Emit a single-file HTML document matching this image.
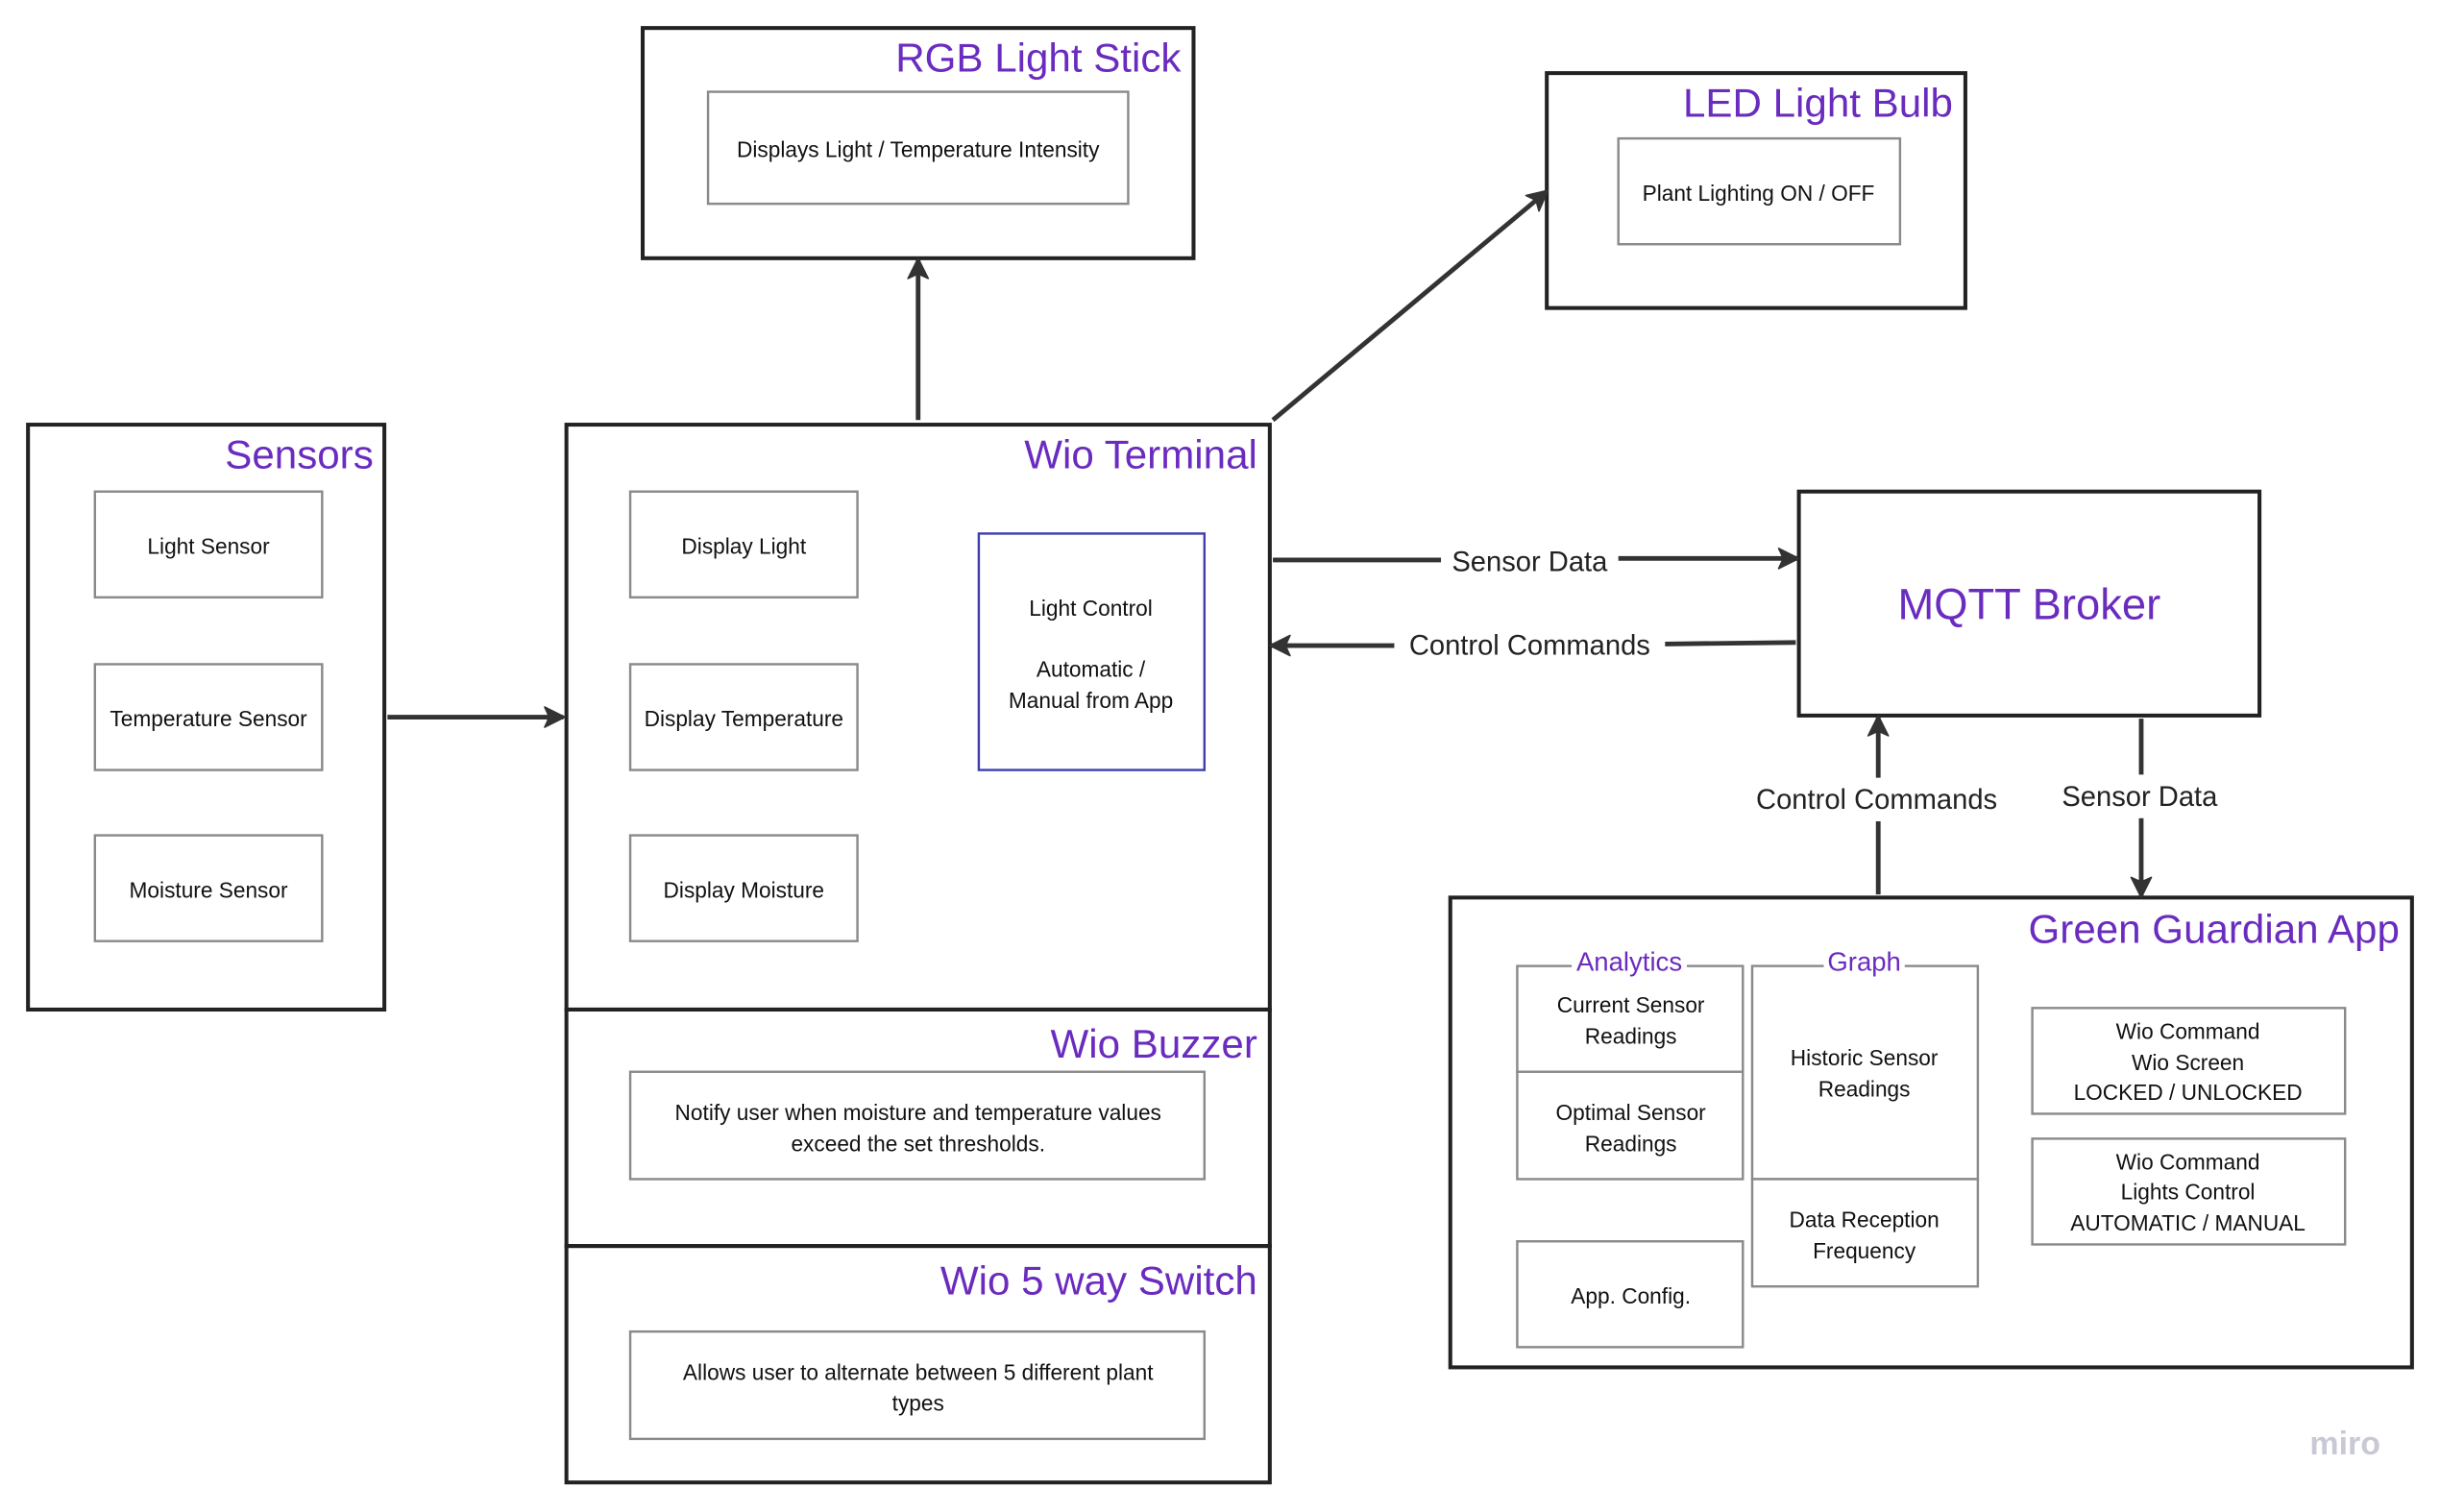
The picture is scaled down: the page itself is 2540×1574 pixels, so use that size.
<!DOCTYPE html>
<html><head><meta charset="utf-8"><style>
html,body{margin:0;padding:0;background:#fff;width:2540px;height:1574px;overflow:hidden}
svg{display:block}
text{font-family:"Liberation Sans",sans-serif}
.o{fill:none;stroke:#222;stroke-width:2.5}
.i{fill:#fff;stroke:#8a8a8a;stroke-width:1.5}
.t{fill:#6a2bbf;font-size:26px;text-anchor:end}
.s{fill:#111;font-size:14px;text-anchor:middle}
.l{fill:#222;font-size:18px;text-anchor:middle}
.a{stroke:#333;stroke-width:3;fill:none}
</style></head><body>
<svg width="2540" height="1574" viewBox="0 0 1568 972" preserveAspectRatio="none">
<defs><marker id="ah" markerWidth="16" markerHeight="16" refX="13" refY="8" orient="auto" markerUnits="userSpaceOnUse"><path d="M1,1.5 L14,8 L1,14.5 L4,8 Z" fill="#333" stroke="#333" stroke-width="1" stroke-linejoin="round"/></marker></defs>

<!-- RGB -->
<rect class="o" x="413" y="18" width="354" height="148"/>
<text class="t" x="759" y="46">RGB Light Stick</text>
<rect class="i" x="455" y="59" width="270" height="72"/>
<text class="s" x="590" y="101">Displays Light / Temperature Intensity</text>

<!-- LED -->
<rect class="o" x="994" y="47" width="269" height="151"/>
<text class="t" x="1255" y="75">LED Light Bulb</text>
<rect class="i" x="1040" y="89" width="181" height="68"/>
<text class="s" x="1130" y="129">Plant Lighting ON / OFF</text>

<!-- Sensors -->
<rect class="o" x="18" y="273" width="229" height="376"/>
<text class="t" x="240" y="301">Sensors</text>
<rect class="i" x="61" y="316" width="146" height="68"/><text class="s" x="134" y="356">Light Sensor</text>
<rect class="i" x="61" y="427" width="146" height="68"/><text class="s" x="134" y="467">Temperature Sensor</text>
<rect class="i" x="61" y="537" width="146" height="68"/><text class="s" x="134" y="577">Moisture Sensor</text>

<!-- Wio Terminal -->
<rect class="o" x="364" y="273" width="452" height="376"/>
<text class="t" x="808" y="301">Wio Terminal</text>
<rect class="i" x="405" y="316" width="146" height="68"/><text class="s" x="478" y="356">Display Light</text>
<rect class="i" x="405" y="427" width="146" height="68"/><text class="s" x="478" y="467">Display Temperature</text>
<rect class="i" x="405" y="537" width="146" height="68"/><text class="s" x="478" y="577">Display Moisture</text>
<rect x="629" y="343" width="145" height="152" fill="#fff" stroke="#3f3fb0" stroke-width="1.5"/>
<text class="s" x="701" y="396">Light Control</text>
<text class="s" x="701" y="435">Automatic /</text>
<text class="s" x="701" y="455">Manual from App</text>

<!-- Buzzer -->
<rect class="o" x="364" y="649" width="452" height="152"/>
<text class="t" x="808" y="680">Wio Buzzer</text>
<rect class="i" x="405" y="689" width="369" height="69"/>
<text class="s" x="590" y="720">Notify user when moisture and temperature values</text>
<text class="s" x="590" y="740">exceed the set thresholds.</text>

<!-- Switch -->
<rect class="o" x="364" y="801" width="452" height="152"/>
<text class="t" x="808" y="832">Wio 5 way Switch</text>
<rect class="i" x="405" y="856" width="369" height="69"/>
<text class="s" x="590" y="887">Allows user to alternate between 5 different plant</text>
<text class="s" x="590" y="907">types</text>

<!-- MQTT -->
<rect class="o" x="1156" y="316" width="296" height="144"/>
<text x="1304" y="398" style="fill:#6a2bbf;font-size:28px;text-anchor:middle">MQTT Broker</text>

<!-- App -->
<rect class="o" x="932" y="577" width="618" height="302"/>
<text class="t" x="1542" y="606">Green Guardian App</text>
<rect class="i" x="975" y="621" width="145" height="68"/>
<text class="s" x="1048" y="651">Current Sensor</text><text class="s" x="1048" y="671">Readings</text>
<rect class="i" x="975" y="689" width="145" height="69"/>
<text class="s" x="1048" y="720">Optimal Sensor</text><text class="s" x="1048" y="740">Readings</text>
<rect x="1010" y="610" width="74" height="16" fill="#fff"/>
<text x="1047" y="624" style="fill:#6a2bbf;font-size:17px;text-anchor:middle">Analytics</text>
<rect class="i" x="975" y="798" width="145" height="68"/>
<text class="s" x="1048" y="838">App. Config.</text>
<rect class="i" x="1126" y="621" width="145" height="137"/>
<text class="s" x="1198" y="685">Historic Sensor</text><text class="s" x="1198" y="705">Readings</text>
<rect class="i" x="1126" y="758" width="145" height="69"/>
<text class="s" x="1198" y="789">Data Reception</text><text class="s" x="1198" y="809">Frequency</text>
<rect x="1172" y="610" width="52" height="16" fill="#fff"/>
<text x="1198" y="624" style="fill:#6a2bbf;font-size:17px;text-anchor:middle">Graph</text>
<rect class="i" x="1306" y="648" width="201" height="68"/>
<text class="s" x="1406" y="668">Wio Command</text><text class="s" x="1406" y="688">Wio Screen</text><text class="s" x="1406" y="707">LOCKED / UNLOCKED</text>
<rect class="i" x="1306" y="732" width="201" height="68"/>
<text class="s" x="1406" y="752">Wio Command</text><text class="s" x="1406" y="771">Lights Control</text><text class="s" x="1406" y="791">AUTOMATIC / MANUAL</text>

<!-- arrows -->
<line class="a" x1="249" y1="461" x2="362" y2="461" marker-end="url(#ah)"/>
<line class="a" x1="590" y1="270" x2="590" y2="167" marker-end="url(#ah)"/>
<line class="a" x1="818" y1="270" x2="994" y2="123" marker-end="url(#ah)"/>
<line class="a" x1="818" y1="360" x2="926" y2="360"/>
<line class="a" x1="1040" y1="359" x2="1155" y2="359" marker-end="url(#ah)"/>
<text class="l" x="983" y="367">Sensor Data</text>
<line class="a" x1="1154" y1="413" x2="1070" y2="414"/>
<line class="a" x1="896" y1="415" x2="817" y2="415" marker-end="url(#ah)"/>
<text class="l" x="983" y="421">Control Commands</text>
<line class="a" x1="1207" y1="575" x2="1207" y2="528"/>
<line class="a" x1="1207" y1="500" x2="1207" y2="461" marker-end="url(#ah)"/>
<text class="l" x="1206" y="520">Control Commands</text>
<line class="a" x1="1376" y1="462" x2="1376" y2="498"/>
<line class="a" x1="1376" y1="526" x2="1376" y2="576" marker-end="url(#ah)"/>
<text class="l" x="1375" y="518">Sensor Data</text>

<text x="1507" y="935" style="fill:#c9c9d6;font-size:21px;font-weight:bold;text-anchor:middle">miro</text>
</svg>
</body></html>
